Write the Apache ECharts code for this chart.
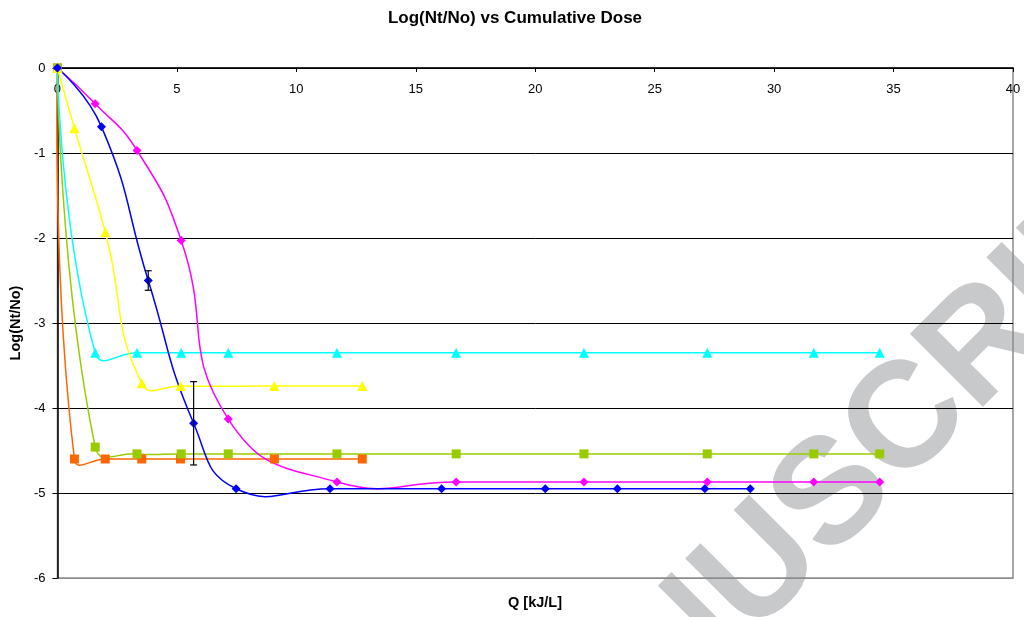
<!DOCTYPE html>
<html><head><meta charset="utf-8">
<script src="https://cdn.jsdelivr.net/npm/echarts@6/dist/echarts.min.js"></script>
<style>html,body{margin:0;padding:0;background:#fff}#c{width:1024px;height:617px}</style>
</head><body><div id="c"></div>
<script>
var xTicks = [0, 5, 10, 15, 20, 25, 30, 35, 40];
var yTicks = [0, -1, -2, -3, -4, -5, -6];

var blueX = [0, 1.84, 3.8, 5.7, 7.48, 11.41, 16.08, 20.42, 23.44, 27.1, 29.0];
var blueY = [0, -0.69, -2.5, -4.18, -4.95, -4.95, -4.95, -4.95, -4.95, -4.95, -4.95];

var longX = [0, 1.58, 3.33, 5.18, 7.15, 11.7, 16.69, 22.04, 27.2, 31.66, 34.42];
var magentaY = [0, -0.42, -0.97, -2.03, -4.13, -4.87, -4.87, -4.87, -4.87, -4.87, -4.87];
var cyanY = [0, -3.35, -3.35, -3.35, -3.35, -3.35, -3.35, -3.35, -3.35, -3.35, -3.35];
var greenY = [0, -4.46, -4.54, -4.54, -4.54, -4.54, -4.54, -4.54, -4.54, -4.54, -4.54];

var shortX = [0, 0.71, 2.0, 3.53, 5.15, 9.08, 12.76];
var yellowY = [0, -0.71, -1.93, -3.71, -3.74, -3.74, -3.74];
var orangeY = [0, -4.6, -4.6, -4.6, -4.6, -4.6, -4.6];

var errX = [3.8, 5.7];
var errY = [-2.5, -4.18];
var errV = [0.115, 0.49];

var FONT = 'Liberation Sans, Arial, sans-serif';
var SMOOTH = 0.5;

function pairs(xs, ys) { return xs.map(function (x, i) { return [x, ys[i]]; }); }

// Smooth curve through the data points (control points from neighbours, no clamping)
function curveSeries(xs, ys, color) {
  var pts = pairs(xs, ys);
  return {
    type: 'custom', z: 3, silent: true, clip: false,
    data: pts.slice(0, pts.length - 1),
    renderItem: function (params, api) {
      var i = params.dataIndex, n = pts.length;
      var P = function (k) { k = Math.max(0, Math.min(n - 1, k)); return api.coord(pts[k]); };
      var p0 = P(i - 1), p1 = P(i), p2 = P(i + 1), p3 = P(i + 2);
      function outCp(prev, cur, next, isFirst) {
        if (isFirst) return cur;
        var vx = next[0] - prev[0], vy = next[1] - prev[1];
        var lp = Math.hypot(cur[0] - prev[0], cur[1] - prev[1]);
        var ln = Math.hypot(next[0] - cur[0], next[1] - cur[1]);
        var r = ln / (ln + lp);
        return [cur[0] + vx * SMOOTH * r, cur[1] + vy * SMOOTH * r];
      }
      function inCp(prev, cur, next, isLast) {
        if (isLast) return cur;
        var vx = next[0] - prev[0], vy = next[1] - prev[1];
        var lp = Math.hypot(cur[0] - prev[0], cur[1] - prev[1]);
        var ln = Math.hypot(next[0] - cur[0], next[1] - cur[1]);
        var r = ln / (ln + lp);
        return [cur[0] - vx * SMOOTH * (1 - r), cur[1] - vy * SMOOTH * (1 - r)];
      }
      var c1 = outCp(p0, p1, p2, i === 0);
      var c2 = inCp(p1, p2, p3, i + 1 === n - 1);
      return {
        type: 'bezierCurve',
        shape: { x1: p1[0], y1: p1[1], x2: p2[0], y2: p2[1], cpx1: c1[0], cpy1: c1[1], cpx2: c2[0], cpy2: c2[1] },
        style: { stroke: color, lineWidth: 1.5, fill: null }
      };
    }
  };
}

function markerSeries(xs, ys, color, symbol, size) {
  return {
    type: 'scatter', data: pairs(xs, ys), symbol: symbol, symbolSize: size, z: 4, clip: false,
    itemStyle: { color: color, borderWidth: 0, opacity: 1 }
  };
}

var chart = echarts.init(document.getElementById('c'), null, { renderer: 'canvas' });
chart.setOption({
  animation: false,
  backgroundColor: '#fff',
  title: [
    { text: 'Log(Nt/No) vs Cumulative Dose', left: 510, top: 5, textAlign: 'center',
      textStyle: { fontFamily: FONT, fontWeight: 'bold', fontSize: 17, color: '#000' } },
    { text: 'Q [kJ/L]', left: 530, top: 590, textAlign: 'center',
      textStyle: { fontFamily: FONT, fontWeight: 'bold', fontSize: 14.5, color: '#000' } }
  ],
  graphic: [{
    type: 'text', x: 528, y: 803, rotation: Math.PI / 4, z: -10, silent: true,
    style: { text: 'ACCEPTED MANUSCRIPT', font: 'bold 150px "Liberation Sans", Arial',
      fill: 'rgb(200,201,203)', textAlign: 'center', textVerticalAlign: 'middle' }
  }],
  grid: { left: 57, right: 11, top: 68, bottom: 39, show: true, borderColor: '#8c8c8c', borderWidth: 1.5, backgroundColor: 'transparent' },
  xAxis: {
    type: 'value', min: 0, max: 40, interval: 5, position: 'top',
    axisLine: { show: true, onZero: false, lineStyle: { color: '#000', width: 1.5 } },
    axisTick: { show: true, inside: true, length: 4, lineStyle: { color: '#000' } },
    axisLabel: { inside: true, margin: 15, fontFamily: FONT, fontSize: 13, color: '#000',
      formatter: function (v) { return xTicks.indexOf(v) >= 0 ? String(v) : ''; } },
    splitLine: { show: false }
  },
  yAxis: {
    type: 'value', min: -6, max: 0, interval: 1,
    name: 'Log(Nt/No)', nameLocation: 'middle', nameGap: 31, nameRotate: 90,
    nameTextStyle: { fontFamily: FONT, fontWeight: 'bold', fontSize: 14.5, color: '#000' },
    axisLine: { show: true, onZero: false, lineStyle: { color: '#000', width: 1.5 } },
    axisTick: { show: true, inside: false, length: 5, lineStyle: { color: '#000' } },
    axisLabel: { margin: 12, fontFamily: FONT, fontSize: 13, color: '#000',
      formatter: function (v) { return yTicks.indexOf(v) >= 0 ? String(v) : ''; } },
    splitLine: { show: true, lineStyle: { color: ['#8c8c8c', '#000', '#000', '#000', '#000', '#000', '#000'], width: 1 } }
  },
  series: [
    curveSeries(shortX, orangeY, '#FF6600'),
    curveSeries(longX, greenY, '#99CC00'),
    curveSeries(longX, cyanY, '#00FFFF'),
    curveSeries(shortX, yellowY, '#FFFF00'),
    curveSeries(longX, magentaY, '#FF00FF'),
    curveSeries(blueX, blueY, '#0000FF'),
    markerSeries(shortX, orangeY, '#FF6600', 'rect', 9),
    markerSeries(longX, greenY, '#99CC00', 'rect', 9),
    markerSeries(longX, cyanY, '#00FFFF', 'triangle', 10),
    markerSeries(shortX, yellowY, '#FFFF00', 'triangle', 10),
    markerSeries(longX, magentaY, '#FF00FF', 'diamond', 9),
    markerSeries(blueX, blueY, '#0000FF', 'diamond', 9),
    {
      type: 'custom', z: 5, clip: false,
      data: errX.map(function (x, i) { return [x, errY[i], errV[i]]; }),
      renderItem: function (params, api) {
        var x = api.value(0), y = api.value(1), e = api.value(2);
        var top = api.coord([x, y + e]), bot = api.coord([x, y - e]);
        var s = { stroke: '#000', lineWidth: 1.2 };
        return { type: 'group', children: [
          { type: 'line', shape: { x1: top[0], y1: top[1], x2: bot[0], y2: bot[1] }, style: s },
          { type: 'line', shape: { x1: top[0] - 3.5, y1: top[1], x2: top[0] + 3.5, y2: top[1] }, style: s },
          { type: 'line', shape: { x1: bot[0] - 3.5, y1: bot[1], x2: bot[0] + 3.5, y2: bot[1] }, style: s }
        ] };
      }
    }
  ]
});
</script></body></html>
